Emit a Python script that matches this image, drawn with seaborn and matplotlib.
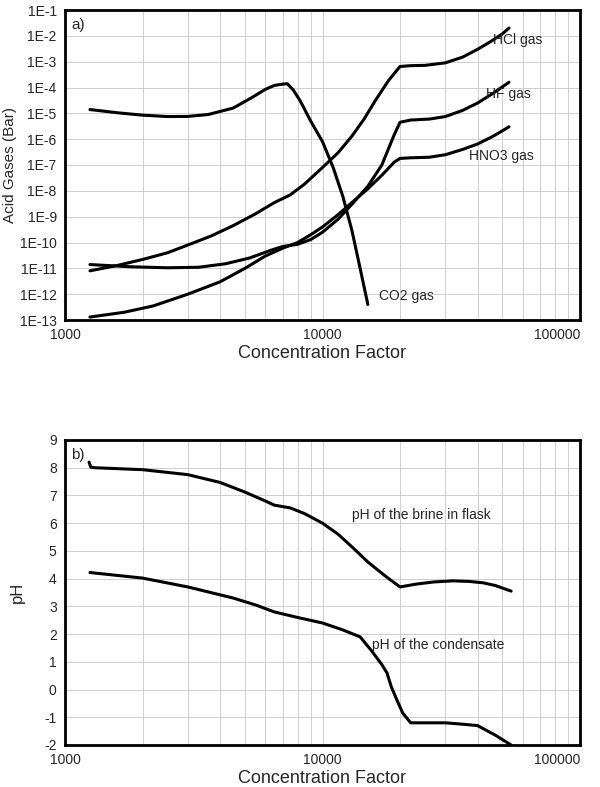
import matplotlib
matplotlib.use("Agg")
import matplotlib.pyplot as plt
import seaborn as sns
import numpy as np
import pandas as pd
from matplotlib.ticker import FixedLocator, LogLocator, NullFormatter

co2_x = [1250, 1600, 2000, 2500, 3000, 3600, 4500, 5300, 6000, 6500, 7000, 7300, 7700, 8200, 9000, 10000, 11000, 12000, 13000, 14000, 15000]
co2_y = [1.4e-5, 1.05e-5, 8.5e-6, 7.5e-6, 7.6e-6, 9e-6, 1.6e-5, 4e-5, 8.5e-5, 1.2e-4, 1.35e-4, 1.4e-4, 8e-5, 3e-5, 5e-6, 8e-7, 8e-8, 6e-9, 3e-10, 1e-11, 4e-13]
hcl_x = [1250, 1600, 2000, 2500, 3000, 3700, 4500, 5500, 6500, 7500, 8500, 10000, 11500, 13000, 14500, 16000, 18000, 20000, 22000, 25000, 30000, 35000, 40000, 45000, 50000, 53000]
hcl_y = [8e-12, 1.3e-11, 2.2e-11, 4e-11, 8e-11, 1.8e-10, 4.5e-10, 1.3e-9, 3.5e-9, 7e-9, 1.8e-8, 8e-8, 3e-7, 1.3e-6, 6e-6, 3e-5, 1.8e-4, 6.5e-4, 7e-4, 7.2e-4, 9e-4, 1.5e-3, 3e-3, 6e-3, 1.2e-2, 2e-2]
hf_x = [1250, 1800, 2500, 3300, 4200, 5200, 6300, 7000, 8000, 9000, 10000, 11500, 13000, 15000, 17000, 19000, 20000, 22000, 26000, 30000, 35000, 40000, 46000, 53000]
hf_y = [1.4e-11, 1.15e-11, 1.05e-11, 1.1e-11, 1.5e-11, 2.5e-11, 5e-11, 7e-11, 8.5e-11, 1.3e-10, 2.5e-10, 8e-10, 3e-9, 1.5e-8, 1e-7, 1.5e-6, 4.5e-6, 5.5e-6, 6e-6, 7.5e-6, 1.3e-5, 2.5e-5, 6e-5, 1.6e-4]
hno3_x = [1250, 1700, 2200, 3000, 4000, 5000, 6000, 7000, 8000, 9000, 10000, 11500, 13000, 15000, 17000, 19000, 20000, 22000, 26000, 30000, 35000, 40000, 46000, 53000]
hno3_y = [1.3e-13, 2e-13, 3.5e-13, 1e-12, 3e-12, 1e-11, 3e-11, 6e-11, 1e-10, 2e-10, 4e-10, 1.2e-9, 3.5e-9, 1.2e-8, 4e-8, 1.3e-7, 1.8e-7, 1.9e-7, 2e-7, 2.5e-7, 4e-7, 6.5e-7, 1.3e-6, 3e-6]

brine_x = [1240, 1260, 1300, 2000, 3000, 4000, 5000, 6000, 6500, 7500, 8500, 10000, 11500, 13000, 15000, 17500, 20000, 23000, 27000, 32000, 37000, 42000, 47000, 54000]
brine_y = [8.2, 8.02, 8.0, 7.93, 7.75, 7.47, 7.12, 6.8, 6.65, 6.55, 6.35, 6.0, 5.6, 5.15, 4.6, 4.1, 3.7, 3.8, 3.88, 3.92, 3.9, 3.85, 3.75, 3.55]
cond_x = [1250, 2000, 3000, 4500, 5500, 6500, 8000, 10000, 12000, 14000, 15500, 17000, 17800, 18500, 19500, 20500, 22000, 25000, 30000, 35000, 40000, 47000, 54000]
cond_y = [4.22, 4.02, 3.7, 3.3, 3.05, 2.8, 2.6, 2.4, 2.15, 1.9, 1.4, 0.9, 0.6, 0.1, -0.4, -0.85, -1.2, -1.2, -1.2, -1.25, -1.3, -1.65, -2.0]

sns.set_style("white")
plt.rcParams['font.family'] = ['Liberation Sans', 'DejaVu Sans']

fig = plt.figure(figsize=(6, 7.87), dpi=100)
ax1 = fig.add_axes([65/600, 1-320/787, 515/600, 310/787])
ax2 = fig.add_axes([65/600, 1-745/787, 515/600, 305/787])

for ax in (ax1, ax2):
    ax.set_xscale('log')
    ax.set_xlim(1000, 100000)
    ax.xaxis.set_major_locator(FixedLocator([1000, 10000, 100000]))
    labs = ax.set_xticklabels(['1000', '10000', '100000'], fontsize=10)
    labs[-1].set_horizontalalignment('right')
    ax.xaxis.set_minor_locator(LogLocator(base=10, subs=np.arange(2, 10)))
    ax.xaxis.set_minor_formatter(NullFormatter())
    ax.grid(True, which='both', color='#c8c8c8', lw=0.6)
    for s in ax.spines.values():
        s.set_linewidth(2); s.set_color('black')
    ax.set_xlabel('Concentration Factor', fontsize=13, labelpad=2)
    ax.tick_params(length=0, pad=6)

for x, y in [(co2_x, co2_y), (hcl_x, hcl_y), (hf_x, hf_y), (hno3_x, hno3_y)]:
    sns.lineplot(x=x, y=y, ax=ax1, color='black', lw=2.2, sort=False, estimator=None)
ax1.set_yscale('log')
ax1.set_ylim(1e-13, 1e-1)
yt = [10.0**e for e in range(-13, 0)]
ax1.yaxis.set_major_locator(FixedLocator(yt))
ax1.set_yticklabels([f'1E{e}' for e in range(-13, 0)], fontsize=10)
ax1.yaxis.set_minor_locator(FixedLocator([]))
ax1.set_ylabel('Acid Gases (Bar)', fontsize=11, labelpad=2)
ax1.text(0.012, 0.975, 'a)', transform=ax1.transAxes, fontsize=11, va='top')
ax1.text(46000, 5e-3, 'HCl gas', fontsize=10)
ax1.text(43000, 4e-5, 'HF gas', fontsize=10)
ax1.text(37000, 1.5e-7, 'HNO3 gas', fontsize=10)
ax1.text(16500, 6e-13, 'CO2 gas', fontsize=10)

sns.lineplot(x=brine_x, y=brine_y, ax=ax2, color='black', lw=2.2, sort=False, estimator=None)
sns.lineplot(x=cond_x, y=cond_y, ax=ax2, color='black', lw=2.2, sort=False, estimator=None)
ax2.set_ylim(-2, 9)
ax2.set_yticks(range(-2, 10))
ax2.set_yticklabels([str(v) for v in range(-2, 10)], fontsize=10)
ax2.set_ylabel('pH', fontsize=12, labelpad=14)
ax2.text(0.012, 0.975, 'b)', transform=ax2.transAxes, fontsize=11, va='top')
ax2.text(13000, 6.15, 'pH of the brine in flask', fontsize=10)
ax2.text(15500, 1.45, 'pH of the condensate', fontsize=10)

fig.savefig('out.png', dpi=100)
